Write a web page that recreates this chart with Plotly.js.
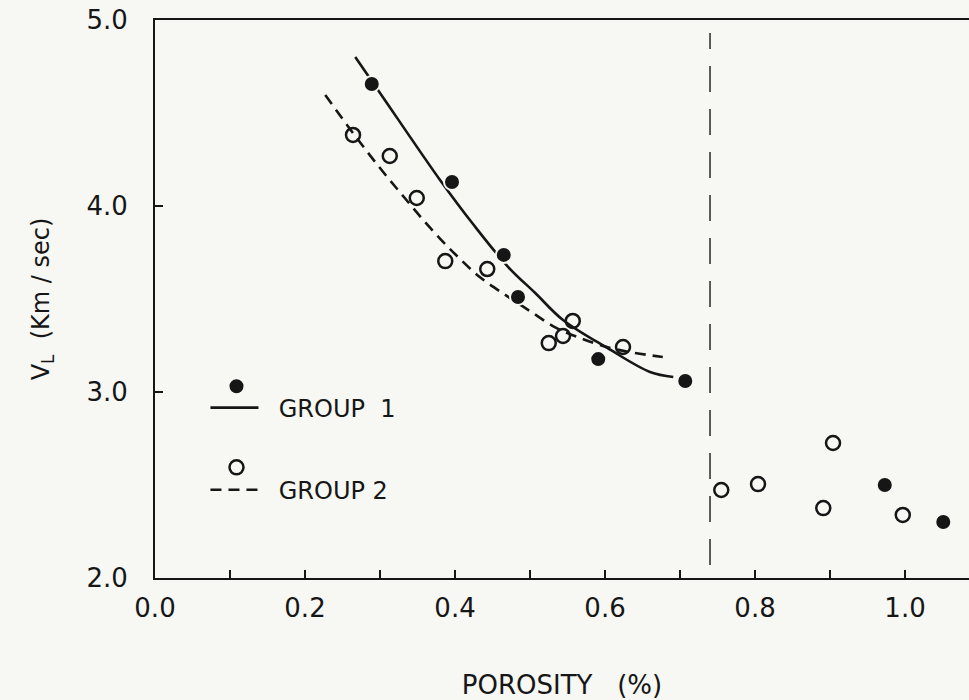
<!DOCTYPE html>
<html>
<head>
<meta charset="utf-8">
<script src="https://cdn.plot.ly/plotly-3.0.1.min.js"></script>
<style>
  html, body { margin: 0; padding: 0; background: #f7f7f4; }
  #chart { width: 969px; height: 700px; }
</style>
</head>
<body>
<div id="chart"></div>
<script>
// Group 1 (filled circles) measured points
var group1Porosity = [0.289, 0.396, 0.465, 0.484, 0.591, 0.707, 0.973, 1.051];
var group1Velocity = [4.656, 4.129, 3.737, 3.511, 3.177, 3.059, 2.500, 2.301];

// Group 2 (open circles) measured points
var group2Porosity = [0.264, 0.313, 0.349, 0.387, 0.443, 0.525, 0.544, 0.557, 0.624, 0.755, 0.804, 0.891, 0.904, 0.997];
var group2Velocity = [4.382, 4.269, 4.043, 3.704, 3.661, 3.263, 3.301, 3.382, 3.242, 2.473, 2.505, 2.376, 2.726, 2.339];

// Group 1 fitted curve (solid)
var curve1Porosity = [0.267, 0.300, 0.380, 0.424, 0.471, 0.507, 0.544, 0.603, 0.660, 0.691];
var curve1Velocity = [4.801, 4.608, 4.140, 3.903, 3.672, 3.532, 3.387, 3.237, 3.108, 3.081];

// Group 2 fitted curve (dashed)
var curve2Porosity = [0.227, 0.264, 0.300, 0.333, 0.367, 0.400, 0.433, 0.467, 0.500, 0.533, 0.567, 0.607, 0.640, 0.677];
var curve2Velocity = [4.597, 4.392, 4.204, 4.043, 3.882, 3.742, 3.618, 3.522, 3.435, 3.349, 3.290, 3.237, 3.210, 3.188];

// Vertical boundary (dashed)
var boundaryPorosity = [0.74, 0.74];
var boundaryVelocity = [2.07, 4.93];

// Names
var group1Name = 'GROUP\u00a0\u00a01';
var group2Name = 'GROUP 2';

// Axis ticks
var xTickVals = [0.0, 0.1, 0.2, 0.3, 0.4, 0.5, 0.6, 0.7, 0.8, 0.9, 1.0];
var xTickText = ["0.0", "", "0.2", "", "0.4", "", "0.6", "", "0.8", "", "1.0"];
var yTickVals = [2.0, 3.0, 4.0, 5.0];
var yTickText = ["2.0", "3.0", "4.0", "5.0"];

var ink = '#161616';
var bg = '#f7f7f4';
var fontFam = 'DejaVu Sans, Liberation Sans, sans-serif';

var boundary = {
  x: boundaryPorosity, y: boundaryVelocity, mode: 'lines',
  line: { color: '#333', width: 1.6, dash: '26px,17px' },
  showlegend: false, hoverinfo: 'skip'
};
var curve1 = {
  x: curve1Porosity, y: curve1Velocity, mode: 'lines', name: '\u00a0\u00a0' + group1Name,
  legend: 'legend', legendgroup: 'g1', legendrank: 1,
  line: { color: ink, width: 2.6, shape: 'spline', smoothing: 1 }
};
var curve2 = {
  x: curve2Porosity, y: curve2Velocity, mode: 'lines', name: '\u00a0\u00a0' + group2Name,
  legend: 'legend', legendgroup: 'g2', legendrank: 2,
  line: { color: ink, width: 2.6, dash: '11px,7px', shape: 'spline', smoothing: 1 }
};
var points1 = {
  x: group1Porosity, y: group1Velocity, mode: 'markers', name: '',
  legend: 'legend2', legendgroup: 'p1', legendrank: 1,
  marker: { symbol: 'circle', size: 16, color: ink, line: { color: bg, width: 2 } }
};
var points2 = {
  x: group2Porosity, y: group2Velocity, mode: 'markers', name: '',
  legend: 'legend2', legendgroup: 'p2', legendrank: 2,
  marker: { symbol: 'circle-open', size: 14, color: ink, line: { color: ink, width: 2.5 } }
};

var layout = {
  width: 969, height: 700,
  paper_bgcolor: bg, plot_bgcolor: bg,
  margin: { l: 155, r: 0, t: 20, b: 122 },
  font: { family: fontFam, color: ink },
  showlegend: true,
  legend: {
    x: 0.062, y: 0.345, xanchor: 'left', yanchor: 'top',
    bgcolor: 'rgba(0,0,0,0)', borderwidth: 0,
    font: { size: 24, color: ink, family: fontFam },
    traceorder: 'grouped', tracegroupgap: 48,
    itemwidth: 48
  },
  legend2: {
    x: 0.0645, y: 0.3695, xanchor: 'left', yanchor: 'top',
    bgcolor: 'rgba(0,0,0,0)', borderwidth: 0,
    font: { size: 10, color: ink, family: fontFam },
    traceorder: 'grouped', tracegroupgap: 62,
    itemwidth: 48
  },
  xaxis: {
    range: [0, 1.0853], showgrid: false, zeroline: false,
    showline: true, linecolor: ink, linewidth: 2, mirror: true,
    ticks: 'inside', ticklen: 8, tickwidth: 1.6, tickcolor: ink,
    tickmode: 'array', tickvals: xTickVals, ticktext: xTickText,
    tickfont: { size: 26, color: ink, family: fontFam },
    ticklabelstandoff: 6,
    title: { text: 'POROSITY\u00a0\u00a0\u00a0(%)', font: { size: 26, color: ink, family: fontFam }, standoff: 58 }
  },
  yaxis: {
    range: [2.0, 5.0], showgrid: false, zeroline: false,
    showline: true, linecolor: ink, linewidth: 2,
    ticks: 'inside', ticklen: 8, tickwidth: 1.6, tickcolor: ink,
    tickmode: 'array', tickvals: yTickVals, ticktext: yTickText,
    tickfont: { size: 26, color: ink, family: fontFam },
    ticklabelstandoff: 20,
    title: { text: 'V<sub>L</sub>\u00a0\u00a0(Km / sec)', font: { size: 24, color: ink, family: fontFam }, standoff: 30 }
  }
};

Plotly.newPlot('chart', [boundary, curve1, curve2, points1, points2], layout, { displayModeBar: false, staticPlot: true });
</script>
</body>
</html>
